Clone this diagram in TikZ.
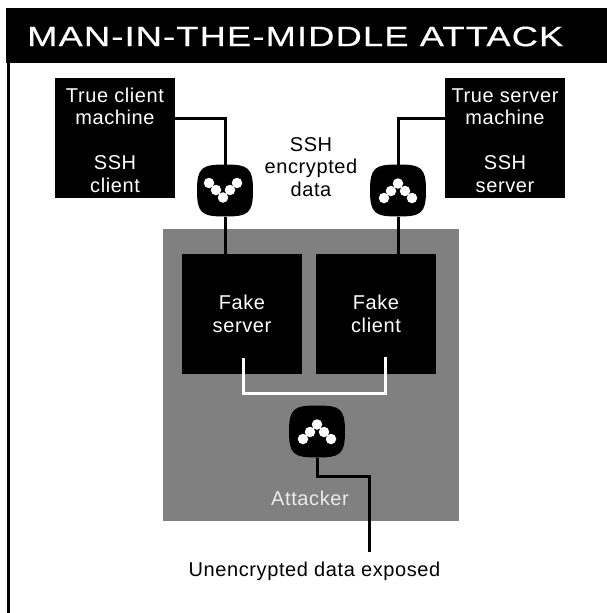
\documentclass[tikz,border=0pt]{standalone}
\usepackage{fontspec}
\setmainfont{Liberation Sans}
\newfontfamily\bodyfont[LetterSpace=3]{Liberation Sans}
\newfontfamily\titlefont[FakeStretch=1.298,FakeBold=0.4,LetterSpace=4]{Liberation Sans}
\usetikzlibrary{positioning}
\definecolor{attackgrey}{HTML}{808080}
\newcommand{\topgap}{\rule{0pt}{18.5pt}}
\tikzset{
  blackbox/.style={fill=black,text=white,minimum width=120pt,minimum height=120pt,inner sep=0pt,align=center,
    font=\fontsize{20}{22.5}\bodyfont},
  label/.style={text=black,inner sep=0pt,align=center,font=\fontsize{20}{22.5}\bodyfont},
  conn/.style={draw=black,line width=3pt},
  bracket/.style={draw=white,line width=3pt},
  lockdot/.style={fill=white,circle,minimum size=10.5pt,inner sep=0pt}
}
% squircle-shaped icon with five dots: name, x, y, dot-direction (1 = peak up, -1 = peak down), dot x shift
\newcommand{\lockicon}[5]{%
  \fill[black] (#2-28,#3) .. controls (#2-28,#3-23) and (#2-23,#3-26) .. (#2,#3-26)
     .. controls (#2+23,#3-26) and (#2+28,#3-23) .. (#2+28,#3)
     .. controls (#2+28,#3+23) and (#2+23,#3+26) .. (#2,#3+26)
     .. controls (#2-23,#3+26) and (#2-28,#3+23) .. (#2-28,#3) -- cycle;
  \coordinate (#1) at (#2,#3);
  \coordinate (#1n) at (#2,#3-26);
  \coordinate (#1s) at (#2,#3+26);
  \foreach \dx/\dy [count=\di] in {-14/7.5,-7/0.5,0/-7,7/0.5,14/7.5}
    \node[lockdot] (#1d\di) at ({#2+#5+\dx},{#3+#4*\dy}) {};
}
\begin{document}
\begin{tikzpicture}[x=1pt,y=-1pt]
\useasboundingbox (0,0) rectangle (607,613);
\fill[white] (0,0) rectangle (607,613);
% frame
\fill[black] (7,40) rectangle (10,613);
\fill[black] (6,8) rectangle (607,62.5);
\node[text=white,inner sep=0pt,anchor=west,font=\fontsize{28}{30}\titlefont] (title) at (27,36.5) {MAN-IN-THE-MIDDLE ATTACK};
% grey attacker region
\fill[attackgrey] (163,229) rectangle (459,521);
% boxes
\node[blackbox] (tcm) at (115,138) {\topgap True client\\machine\\[22.5pt]SSH\\client};
\node[blackbox] (tsm) at (505,138) {\topgap True server\\machine\\[22.5pt]SSH\\server};
\node[blackbox] (fs) at (242,314) {Fake\\server};
\node[blackbox] (fc) at (376,314) {Fake\\client};
% locks
\lockicon{lockL}{225}{190.5}{-1}{-2}
\lockicon{lockR}{398}{190.5}{1}{0}
\lockicon{lockA}{317}{431.5}{1}{0}
% labels
\node[label] (ssh) at (311,167) {SSH\\encrypted\\data};
\node[label,text=white!92!black] (att) at (310,498.5) {Attacker};
\node[label] (unenc) at (314.5,571.5) {Unencrypted data exposed};
\coordinate (unencTop) at (369,552);
% connectors
\draw[conn] ([yshift=20pt]tcm.east) -| (lockLn);
\draw[conn] ([yshift=20pt]tsm.west) -| (lockRn);
\draw[conn] (lockLs) -- (lockLs |- fs.north);
\draw[conn] (lockRs) -- (lockRs |- fc.north);
\draw[bracket] ([xshift=1pt,yshift=16pt]fs.south) |- ([xshift=9pt,yshift=-19pt]fc.south) -- ([xshift=9pt,yshift=17pt]fc.south);
\draw[conn] (lockAs) -- ++(0,19) -| (unencTop);
\end{tikzpicture}
\end{document}
